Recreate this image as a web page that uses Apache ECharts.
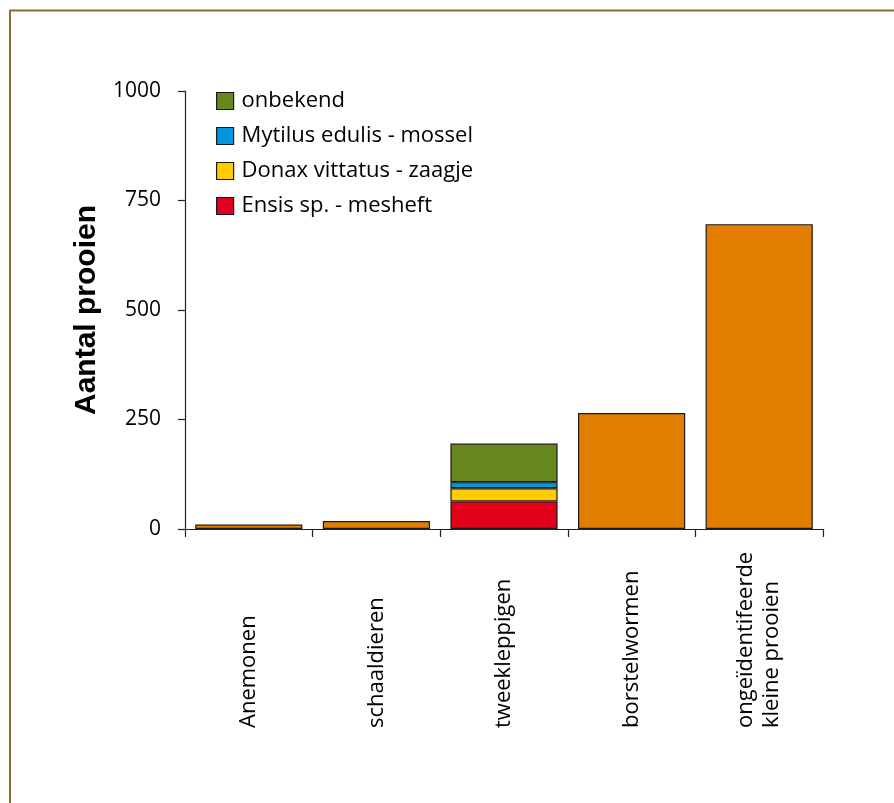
<!DOCTYPE html>
<html>
<head>
<meta charset="utf-8">
<script src="https://cdn.jsdelivr.net/npm/echarts@6/dist/echarts.min.js"></script>
<style>
  html, body { margin: 0; padding: 0; background: #fff; }
  #chart { width: 894px; height: 803px; }
</style>
</head>
<body>
<div id="chart"></div>
<script>
// Prey categories on the x axis
var categories = ['Anemonen', 'schaaldieren', 'tweekleppigen', 'borstelwormen', 'ongeïdentifeerde kleine prooien'];
// Totals for the single-colour categories (bivalves are split below)
var overigValues = [10, 18, '-', 265, 696];
// Bivalve breakdown (tweekleppigen)
var ensisValues = ['-', '-', 63, '-', '-'];
var donaxValues = ['-', '-', 30, '-', '-'];
var mytilusValues = ['-', '-', 14, '-', '-'];
var onbekendValues = ['-', '-', 88, '-', '-'];
// Value axis ticks
var yMin = 0, yMax = 1000, yStep = 250;

var font = 'Open Sans';
var NL = String.fromCharCode(10);
var barBorder = { borderColor: '#1a1a1a', borderWidth: 1.2 };

function stackSeries(name, data, color) {
  return {
    name: name, type: 'bar', stack: 'totaal', data: data,
    barCategoryGap: '16%',
    itemStyle: Object.assign({ color: color }, barBorder),
    emphasis: { disabled: true }
  };
}

var chart = echarts.init(document.getElementById('chart'));
chart.setOption({
  animation: false,
  backgroundColor: '#fff',
  graphic: [{
    type: 'polyline',
    shape: { points: [[10, 803], [10, 10.5], [894, 10.5]] },
    style: { stroke: '#8a6c3a', lineWidth: 2, fill: null }
  }],
  grid: { left: 185, right: 71, top: 91, bottom: 274 },
  legend: {
    orient: 'vertical', left: 211, top: 85,
    itemWidth: 17, itemHeight: 17, itemGap: 13,
    icon: 'rect',
    data: ['onbekend', 'Mytilus edulis - mossel', 'Donax vittatus - zaagje', 'Ensis sp. - mesheft'],
    textStyle: { fontFamily: font, fontSize: 22, color: '#000', padding: [0, 0, 0, 3] },
    itemStyle: { borderColor: '#1a1a1a', borderWidth: 1.2 },
    selectedMode: false
  },
  xAxis: {
    type: 'category', data: categories,
    axisLine: { lineStyle: { color: '#222', width: 1.2 } },
    axisTick: { show: true, length: 8, lineStyle: { color: '#222', width: 1.2 } },
    axisLabel: {
      interval: 0, rotate: 90, align: 'left', margin: 199,
      fontFamily: font, fontSize: 22, color: '#000', lineHeight: 26,
      formatter: function (v) { return v.replace(' kleine', NL + 'kleine'); }
    }
  },
  yAxis: {
    type: 'value', min: yMin, max: yMax, interval: yStep,
    name: 'Aantal prooien', nameLocation: 'middle', nameGap: 79, nameRotate: 90,
    nameTextStyle: { fontFamily: 'Liberation Sans', fontWeight: 'bold', fontSize: 30, color: '#000' },
    axisLine: { show: true, lineStyle: { color: '#222', width: 1.2 } },
    axisTick: { show: true, length: 7, lineStyle: { color: '#222', width: 1.2 } },
    splitLine: { show: false },
    axisLabel: {
      fontFamily: font, fontSize: 21, color: '#000', margin: 24,
      formatter: function (v) { return String(v); }
    }
  },
  series: [
    stackSeries('Ensis sp. - mesheft', ensisValues, '#e2001a'),
    stackSeries('Donax vittatus - zaagje', donaxValues, '#ffcc00'),
    stackSeries('Mytilus edulis - mossel', mytilusValues, '#0096dc'),
    stackSeries('onbekend', onbekendValues, '#66861e'),
    stackSeries('overig', overigValues, '#e37e00')
  ]
});
</script>
</body>
</html>
